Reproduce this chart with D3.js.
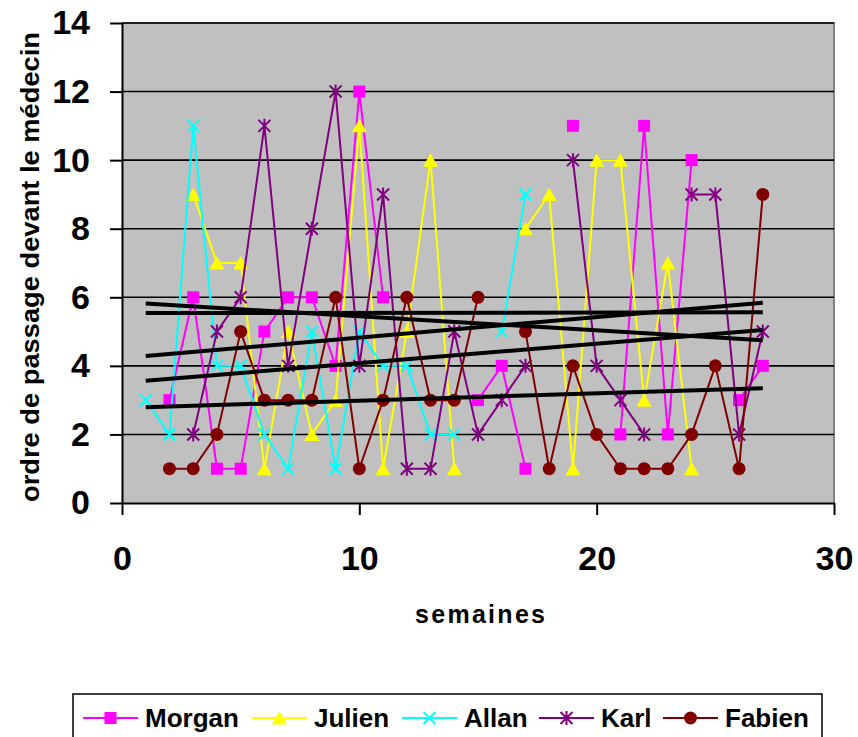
<!DOCTYPE html>
<html>
<head>
<meta charset="utf-8">
<script src="https://cdn.jsdelivr.net/npm/d3@7"></script>
<style>
  body { margin: 0; background: #fff; }
  svg { display: block; font-family: Arial, "Liberation Sans", sans-serif; font-weight: bold; }
</style>
</head>
<body>
<div id="chart"></div>
<script>
// weeks 1..27, null = no value that week
const weeks = d3.range(1, 28);
const morgan = [null, 3, 6, 1, 1, 5, 6, 6, 4, 12, 6, null, null, null, 3, 4, 1, null, 11, null, 2, 11, 2, 10, null, 3, 4];
const julien = [null, null, 9, 7, 7, 1, 5, 2, 3, 11, 1, 5, 10, 1, null, null, 8, 9, 1, 10, 10, 3, 7, 1, null, null, null];
const allan  = [3, 2, 11, 4, 4, 2, 1, 5, 1, 5, 4, 4, 2, 2, null, 5, 9, null, null, null, null, null, null, null, null, null, null];
const karl   = [null, null, 2, 5, 6, 11, 4, 8, 12, 4, 9, 1, 1, 5, 2, 3, 4, null, 10, 4, 3, 2, null, 9, 9, 2, 5];
const fabien = [null, 1, 1, 2, 5, 3, 3, 3, 6, 1, 3, 6, 3, 3, 6, null, 5, 1, 4, 2, 1, 1, 1, 2, 4, 1, 9];

const seriesNames = ["Morgan", "Julien", "Allan", "Karl", "Fabien"];
const seriesValues = [morgan, julien, allan, karl, fabien];
const seriesColors = ["#FF00FF", "#FFFF00", "#00FFFF", "#800080", "#800000"];
const seriesMarkers = ["square", "triangle", "cross", "star", "circle"];

const yTicks = [0, 2, 4, 6, 8, 10, 12, 14];
const xTicks = [0, 10, 20, 30];

const W = 858, H = 737;
const plotLeft = 122, plotRight = 834, plotTop = 23, plotBottom = 503;

const svg = d3.select("#chart").append("svg")
    .attr("width", W)
    .attr("height", H);

const x = d3.scaleLinear().domain([0, 30]).range([plotLeft, plotRight]);
const y = d3.scaleLinear().domain([0, 14]).range([plotBottom, plotTop]);

// plot background
svg.append("rect")
    .attr("x", plotLeft).attr("y", plotTop)
    .attr("width", plotRight - plotLeft).attr("height", plotBottom - plotTop)
    .attr("fill", "#C0C0C0");

// gray frame top / right
svg.append("path")
    .attr("d", `M${plotLeft},${plotTop}H${plotRight}V${plotBottom}`)
    .attr("fill", "none")
    .attr("stroke", "#808080")
    .attr("stroke-width", 2);

// gridlines
svg.append("g").selectAll("line")
    .data(yTicks.filter(t => t > 0))
    .enter().append("line")
    .attr("x1", plotLeft).attr("x2", plotRight)
    .attr("y1", d => y(d)).attr("y2", d => y(d))
    .attr("stroke", "black")
    .attr("stroke-width", 1.6);

// axes
const yAxis = svg.append("g")
    .attr("transform", `translate(${plotLeft},0)`)
    .call(d3.axisLeft(y).tickValues(yTicks).tickSize(12).tickSizeOuter(0).tickPadding(20));
const xAxis = svg.append("g")
    .attr("transform", `translate(0,${plotBottom})`)
    .call(d3.axisBottom(x).tickValues(xTicks).tickSize(12).tickSizeOuter(0).tickPadding(31));

[yAxis, xAxis].forEach(g => {
    g.select(".domain").attr("stroke", "black").attr("stroke-width", 2);
    g.selectAll(".tick line").attr("stroke", "black").attr("stroke-width", 2);
    g.selectAll(".tick text")
        .attr("fill", "black")
        .attr("font-size", 34)
        .attr("font-weight", "bold")
        .attr("font-family", "Arial, 'Liberation Sans', sans-serif");
});

// axis titles
svg.append("text")
    .attr("transform", `translate(39,${(plotTop + plotBottom) / 2 + 4}) rotate(-90)`)
    .attr("text-anchor", "middle")
    .attr("font-size", 26)
    .attr("textLength", 470)
    .attr("lengthAdjust", "spacingAndGlyphs")
    .text("ordre de passage devant le médecin");

svg.append("text")
    .attr("x", 480)
    .attr("y", 623)
    .attr("text-anchor", "middle")
    .attr("font-size", 25)
    .attr("textLength", 130)
    .attr("lengthAdjust", "spacing")
    .text("semaines");

function drawMarker(g, kind, color) {
    if (kind === "square") {
        g.append("rect").attr("x", -6).attr("y", -6).attr("width", 12).attr("height", 12).attr("fill", color);
    } else if (kind === "triangle") {
        g.append("path").attr("d", "M0,-7L7.5,6.5L-7.5,6.5Z").attr("fill", color);
    } else if (kind === "cross") {
        g.append("path").attr("d", "M-6,-6L6,6M-6,6L6,-6").attr("stroke", color).attr("stroke-width", 2).attr("fill", "none");
    } else if (kind === "star") {
        g.append("path").attr("d", "M-6,-6L6,6M-6,6L6,-6M0,-7V7").attr("stroke", color).attr("stroke-width", 2).attr("fill", "none");
    } else {
        g.append("circle").attr("r", 6.5).attr("fill", color);
    }
}

const line = d3.line()
    .defined(d => d.v !== null)
    .x(d => x(d.w))
    .y(d => y(d.v));

const seriesLayer = svg.append("g");
seriesValues.forEach((vals, i) => {
    const pts = weeks.map((w, j) => ({ w: w, v: vals[j] }));
    const g = seriesLayer.append("g");
    g.append("path")
        .attr("d", line(pts))
        .attr("fill", "none")
        .attr("stroke", seriesColors[i])
        .attr("stroke-width", 2);
    g.selectAll("g.m")
        .data(pts.filter(p => p.v !== null))
        .enter().append("g")
        .attr("class", "m")
        .attr("transform", d => `translate(${x(d.w)},${y(d.v)})`)
        .each(function() { drawMarker(d3.select(this), seriesMarkers[i], seriesColors[i]); });
});

// linear trendlines (least squares over the weeks that have a value)
function trend(vals) {
    const pts = weeks.map((w, j) => [w, vals[j]]).filter(p => p[1] !== null);
    const mx = d3.mean(pts, p => p[0]), my = d3.mean(pts, p => p[1]);
    const sxy = d3.sum(pts, p => (p[0] - mx) * (p[1] - my));
    const sxx = d3.sum(pts, p => (p[0] - mx) * (p[0] - mx));
    const b = sxy / sxx;
    return w => my + b * (w - mx);
}
const trendLayer = svg.append("g");
seriesValues.forEach(vals => {
    const f = trend(vals);
    const w0 = weeks[0], w1 = weeks[weeks.length - 1];
    trendLayer.append("line")
        .attr("x1", x(w0)).attr("y1", y(f(w0)))
        .attr("x2", x(w1)).attr("y2", y(f(w1)))
        .attr("stroke", "black")
        .attr("stroke-width", 4);
});

// legend
const legend = svg.append("g");
legend.append("rect")
    .attr("x", 73).attr("y", 694)
    .attr("width", 749).attr("height", 70)
    .attr("fill", "white")
    .attr("stroke", "black")
    .attr("stroke-width", 1.5);

const legendX = [83, 252, 402, 539, 663];
const legendY = 718;
seriesNames.forEach((name, i) => {
    const g = legend.append("g").attr("transform", `translate(${legendX[i]},${legendY})`);
    g.append("line").attr("x1", 0).attr("x2", 55).attr("y1", 0).attr("y2", 0)
        .attr("stroke", seriesColors[i]).attr("stroke-width", 2);
    const m = g.append("g").attr("transform", "translate(27.5,0)");
    drawMarker(m, seriesMarkers[i], seriesColors[i]);
    g.append("text")
        .attr("x", 62)
        .attr("y", 9)
        .attr("font-size", 26)
        .text(name);
});
</script>
</body>
</html>
